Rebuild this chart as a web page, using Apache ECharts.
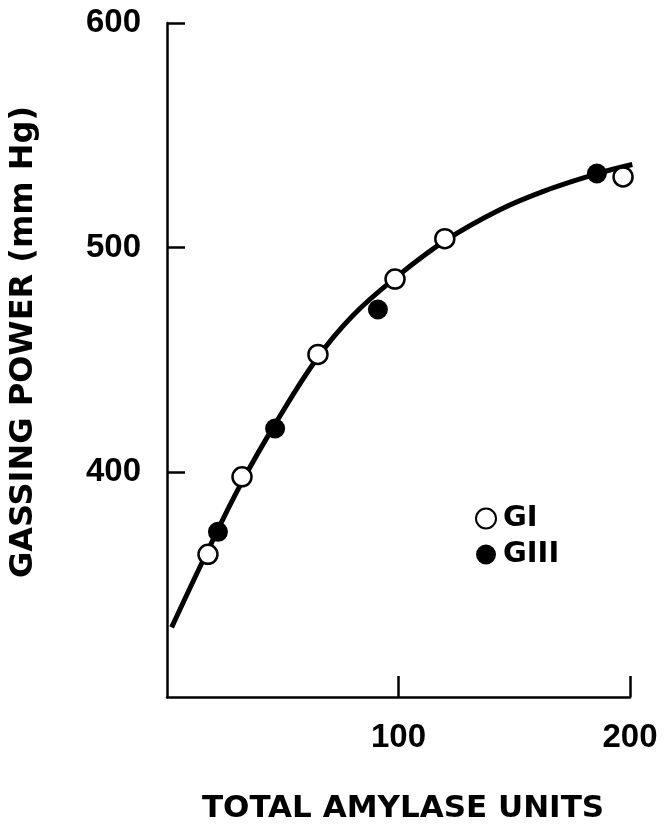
<!DOCTYPE html>
<html>
<head>
<meta charset="utf-8">
<script src="https://cdn.jsdelivr.net/npm/echarts@6/dist/echarts.min.js"></script>
<style>html,body{margin:0;padding:0;background:#fff}#c{width:665px;height:829px}</style>
</head>
<body>
<div id="c"></div>
<script>
// Data
const xTicks = [0, 100, 200];
const yTicks = [300, 400, 500, 600];
const curveX = [2, 18, 32, 47, 65, 80, 98, 120, 144, 165, 186, 201];
const curveY = [331, 366, 395, 422, 451, 469.5, 486, 503, 517, 526, 533, 537];
const giX = [17.7, 32.4, 65.2, 98.5, 120, 197];
const giY = [363.5, 398, 452.5, 486, 504, 531.5];
const giiiX = [22, 46.7, 91.1, 185.7];
const giiiY = [373.5, 419.5, 472.5, 533];
const xTitle = 'TOTAL AMYLASE UNITS';
const yTitle = 'GASSING POWER (mm Hg)';

const zip = (a, b) => a.map((v, i) => [v, b[i]]);
const chart = echarts.init(document.getElementById('c'), null, {renderer: 'canvas'});
const tickFont = {color: '#000', fontFamily: 'Liberation Sans', fontWeight: 'bold', fontSize: 33};
const titleFont = {color: '#000', fontFamily: 'DejaVu Sans', fontWeight: 'bold'};

chart.setOption({
  animation: false,
  backgroundColor: '#fff',
  grid: {left: 167, right: 35, top: 23, bottom: 118, containLabel: false},
  xAxis: {
    type: 'value', min: xTicks[0], max: xTicks[xTicks.length - 1], interval: 100,
    splitLine: {show: false},
    axisLine: {lineStyle: {color: '#000', width: 2.5}},
    axisTick: {inside: true, length: 21, lineStyle: {color: '#000', width: 2.5}},
    axisLabel: Object.assign({showMinLabel: false, margin: 24}, tickFont),
    name: xTitle, nameLocation: 'middle', nameGap: 96,
    nameTextStyle: Object.assign({fontSize: 31, padding: [0, 0, 0, 9]}, titleFont)
  },
  yAxis: {
    type: 'value', min: yTicks[0], max: yTicks[yTicks.length - 1], interval: 100,
    splitLine: {show: false},
    axisLine: {lineStyle: {color: '#000', width: 2.5}},
    axisTick: {inside: true, length: 18, lineStyle: {color: '#000', width: 2.5}},
    axisLabel: Object.assign({showMinLabel: false, margin: 26}, tickFont),
    name: yTitle, nameLocation: 'middle', nameGap: 127, nameRotate: 90,
    nameTextStyle: Object.assign({fontSize: 32, padding: [0, 0, 0, 36]}, titleFont)
  },
  legend: {
    orient: 'vertical', left: 470, top: 499, itemWidth: 20, itemHeight: 20, itemGap: 7,
    data: ['GI', 'GIII'],
    textStyle: Object.assign({fontSize: 29, lineHeight: 22, padding: [2, 0, 0, 2]}, titleFont)
  },
  series: [
    {
      name: 'fit', type: 'line', data: zip(curveX, curveY), smooth: 0.4, showSymbol: false,
      lineStyle: {color: '#000', width: 5}, z: 2, silent: true
    },
    {
      name: 'GI', type: 'scatter', data: zip(giX, giY), symbol: 'circle', symbolSize: 19,
      itemStyle: {color: '#fff', borderColor: '#000', borderWidth: 2.5, opacity: 1}, z: 3
    },
    {
      name: 'GIII', type: 'scatter', data: zip(giiiX, giiiY), symbol: 'circle', symbolSize: 20,
      itemStyle: {color: '#000', borderColor: '#000', borderWidth: 0, opacity: 1}, z: 3
    }
  ]
});
</script>
</body>
</html>
